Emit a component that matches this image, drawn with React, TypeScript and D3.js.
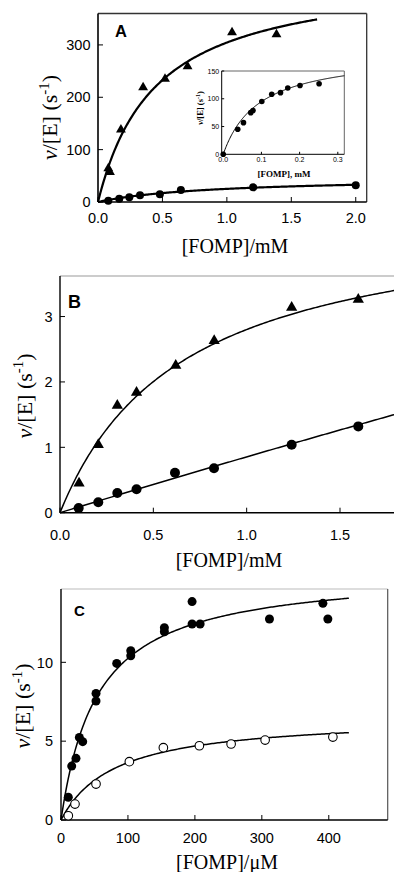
import React from 'react';
import * as d3 from 'd3';

const W = 394;
const H = 872;

// ---------- Panel A (main) ----------
const aXTicks = [0, 0.5, 1.0, 1.5, 2.0];
const aYTicks = [0, 100, 200, 300];
const aTriX = [0.08, 0.093, 0.178, 0.35, 0.52, 0.695, 1.04, 1.385];
const aTriY = [64, 57, 138, 219, 235, 259, 324, 320];
const aCircX = [0.08, 0.165, 0.243, 0.326, 0.48, 0.643, 1.204, 2.0];
const aCircY = [2.5, 6, 9, 13, 15, 23, 28, 32];
const aTriFit = [440, 0.445, 1.7]; // Vmax, Km, end of curve
const aCircFit = [47.7, 0.9, 2.02];

// ---------- Panel A inset ----------
const inXTicks = [0, 0.1, 0.2, 0.3];
const inYTicks = [0, 50, 100, 150];
const inX = [0, 0.038, 0.053, 0.072, 0.078, 0.101, 0.127, 0.15, 0.169, 0.201, 0.251];
const inY = [0, 45, 57, 75, 79, 95, 108, 111, 119.5, 124, 127];
const inFit = [183, 0.093, 0.317];

// ---------- Panel B ----------
const bXTicks = [0, 0.5, 1.0, 1.5];
const bYTicks = [0, 1, 2, 3];
const bTriX = [0.102, 0.205, 0.307, 0.41, 0.62, 0.826, 1.241, 1.598];
const bTriY = [0.45, 1.04, 1.64, 1.84, 2.25, 2.63, 3.14, 3.26];
const bCircX = [0.1, 0.205, 0.307, 0.41, 0.616, 0.825, 1.241, 1.598];
const bCircY = [0.07, 0.16, 0.3, 0.36, 0.61, 0.68, 1.04, 1.32];
const bTriFit = [4.65, 0.66, 1.8];
const bCircFit = [35, 40, 1.8];

// ---------- Panel C ----------
const cXTicks = [0, 100, 200, 300, 400];
const cYTicks = [0, 5, 10];
const cFillX = [10.9, 16, 22.4, 27.4, 32.4, 52.3, 52.3, 83.2, 104.2, 104.2, 154.4, 154.4, 195.8, 195.8, 207.8, 311.4, 391.2, 398.6];
const cFillY = [1.44, 3.42, 3.91, 5.24, 4.97, 8.03, 7.55, 9.93, 10.74, 10.42, 12.2, 11.94, 13.85, 12.43, 12.43, 12.75, 13.74, 12.75];
const cOpenX = [10.9, 20.9, 52.3, 102.1, 152.9, 206.7, 254.1, 304.9, 406.1];
const cOpenY = [0.27, 1.01, 2.28, 3.7, 4.59, 4.71, 4.82, 5.07, 5.26];
const cFillFit = [15.85, 54.6, 430];
const cOpenFit = [6.58, 80.8, 430];

const SANS = "'Liberation Sans', Arial, sans-serif";
const SERIF = "'Liberation Serif', 'Times New Roman', serif";

function mmPath(fit: number[], xs: d3.ScaleLinear<number, number>, ys: d3.ScaleLinear<number, number>) {
  const [vmax, km, xEnd] = fit;
  const n = 200;
  const pts: [number, number][] = d3.range(n + 1).map((i) => {
    const s = (xEnd * i) / n;
    return [s, (vmax * s) / (km + s)];
  });
  return d3
    .line<[number, number]>()
    .x((d) => xs(d[0]))
    .y((d) => ys(d[1]))(pts) as string;
}

function YLabel({ x, y, size }: { x: number; y: number; size: number }) {
  return (
    <text
      transform={`translate(${x},${y}) rotate(-90)`}
      textAnchor="middle"
      fontFamily={SERIF}
      fontSize={size}
      fill="#000"
    >
      <tspan fontStyle="italic">ν</tspan>
      <tspan>/[E] (s</tspan>
      <tspan dy={-size * 0.38} fontSize={size * 0.68}>-1</tspan>
      <tspan dy={size * 0.38}>)</tspan>
    </text>
  );
}

function Axes({
  xs,
  ys,
  xTicks,
  yTicks,
  xFmt,
  yFmt,
  tickLen,
  fontSize,
  xLabGap,
  yLabGap,
  axisW,
  frame,
}: any) {
  const [x0, x1] = xs.range();
  const [y0, y1] = ys.range(); // y0 bottom, y1 top
  return (
    <g>
      {frame.top && (
        <line x1={x0} x2={x1} y1={y1} y2={y1} stroke={frame.top} strokeWidth={frame.w || 1} />
      )}
      {frame.right && (
        <line x1={x1} x2={x1} y1={y1} y2={y0} stroke={frame.right} strokeWidth={frame.w || 1} />
      )}
      <line x1={x0} x2={x1} y1={y0} y2={y0} stroke="#000" strokeWidth={axisW} />
      <line x1={x0} x2={x0} y1={y0} y2={y1} stroke="#000" strokeWidth={axisW} />
      {xTicks.map((t: number, i: number) => (
        <g key={'xt' + i}>
          <line x1={xs(t)} x2={xs(t)} y1={y0} y2={y0 - tickLen} stroke="#000" strokeWidth={1} />
          <text x={xs(t)} y={y0 + xLabGap} textAnchor="middle" fontFamily={SANS} fontSize={fontSize}>
            {xFmt(t)}
          </text>
        </g>
      ))}
      {yTicks.map((t: number, i: number) => (
        <g key={'yt' + i}>
          <line x1={x0} x2={x0 + tickLen} y1={ys(t)} y2={ys(t)} stroke="#000" strokeWidth={1} />
          <text
            x={x0 - yLabGap}
            y={ys(t)}
            dy="0.36em"
            textAnchor="end"
            fontFamily={SANS}
            fontSize={fontSize}
          >
            {yFmt(t)}
          </text>
        </g>
      ))}
    </g>
  );
}

export default function App() {
  // scales
  const axs = d3.scaleLinear().domain([0, 2.085]).range([98, 366.7]);
  const ays = d3.scaleLinear().domain([0, 360]).range([202, 13.5]);
  const ixs = d3.scaleLinear().domain([-0.004, 0.317]).range([221.7, 344.3]);
  const iys = d3.scaleLinear().domain([0, 150]).range([154.3, 71]);
  const bxs = d3.scaleLinear().domain([0, 1.8]).range([60, 396]);
  const bys = d3.scaleLinear().domain([0, 3.62]).range([512.7, 276]);
  const cxs = d3.scaleLinear().domain([0, 488]).range([61, 387.7]);
  const cys = d3.scaleLinear().domain([0, 14.65]).range([820, 589]);

  const f1 = d3.format('.1f');
  const f0 = d3.format('d');
  const triA = d3.symbol().type(d3.symbolTriangle).size(42)() as string;
  const triB = d3.symbol().type(d3.symbolTriangle).size(55)() as string;

  return (
    <svg
      width={W}
      height={H}
      viewBox={`0 0 ${W} ${H}`}
      style={{ position: 'absolute', left: 0, top: 0, background: '#fff' }}
    >
      <rect x={0} y={0} width={W} height={H} fill="#fff" />

      {/* ===== Panel A ===== */}
      <Axes
        xs={axs}
        ys={ays}
        xTicks={aXTicks}
        yTicks={aYTicks}
        xFmt={f1}
        yFmt={f0}
        tickLen={5}
        fontSize={14.5}
        xLabGap={21}
        yLabGap={7.5}
        axisW={1.6}
        frame={{ top: '#333', right: '#333', w: 1.3 }}
      />
      <text x={115} y={37} fontFamily={SANS} fontWeight="bold" fontSize={16.5}>A</text>
      <YLabel x={57} y={117.5} size={22} />
      <text x={235} y={252.5} textAnchor="middle" fontFamily={SERIF} fontSize={20}>[FOMP]/mM</text>
      <path d={mmPath(aTriFit, axs, ays)} fill="none" stroke="#000" strokeWidth={2.2} />
      <path d={mmPath(aCircFit, axs, ays)} fill="none" stroke="#000" strokeWidth={2.2} />
      {aTriX.map((v, i) => (
        <path key={'at' + i} d={triA} transform={`translate(${axs(v)},${ays(aTriY[i])})`} fill="#000" />
      ))}
      {aCircX.map((v, i) => (
        <circle key={'ac' + i} cx={axs(v)} cy={ays(aCircY[i])} r={4} fill="#000" />
      ))}

      {/* ===== Inset ===== */}
      <Axes
        xs={ixs}
        ys={iys}
        xTicks={inXTicks}
        yTicks={inYTicks}
        xFmt={f1}
        yFmt={f0}
        tickLen={2.5}
        fontSize={7}
        xLabGap={8}
        yLabGap={2.5}
        axisW={1}
        frame={{ top: '#666', right: '#666', w: 1 }}
      />
      <text
        transform={`translate(203,108) rotate(-90)`}
        textAnchor="middle"
        fontFamily={SERIF}
        fontWeight="bold"
        fontSize={8.5}
      >
        <tspan fontStyle="italic">ν</tspan>
        <tspan>/[E] (s</tspan>
        <tspan dy={-3} fontSize={6}>-1</tspan>
        <tspan dy={3}>)</tspan>
      </text>
      <text x={284} y={177} textAnchor="middle" fontFamily={SERIF} fontWeight="bold" fontSize={9}>
        [FOMP], mM
      </text>
      <path d={mmPath(inFit, ixs, iys)} fill="none" stroke="#000" strokeWidth={1} />
      {inX.map((v, i) => (
        <circle key={'ic' + i} cx={ixs(v)} cy={iys(inY[i])} r={2.8} fill="#000" />
      ))}

      {/* ===== Panel B ===== */}
      <Axes
        xs={bxs}
        ys={bys}
        xTicks={bXTicks}
        yTicks={bYTicks}
        xFmt={f1}
        yFmt={f0}
        tickLen={5}
        fontSize={14.5}
        xLabGap={27}
        yLabGap={7.5}
        axisW={1.4}
        frame={{ top: '#999', right: '#555', w: 1 }}
      />
      <text x={68} y={308} fontFamily={SANS} fontWeight="bold" fontSize={18}>B</text>
      <YLabel x={31.5} y={396} size={22} />
      <text x={229} y={567} textAnchor="middle" fontFamily={SERIF} fontSize={20}>[FOMP]/mM</text>
      <path d={mmPath(bTriFit, bxs, bys)} fill="none" stroke="#000" strokeWidth={1.5} />
      <path d={mmPath(bCircFit, bxs, bys)} fill="none" stroke="#000" strokeWidth={1.5} />
      {bTriX.map((v, i) => (
        <path key={'bt' + i} d={triB} transform={`translate(${bxs(v)},${bys(bTriY[i])})`} fill="#000" />
      ))}
      {bCircX.map((v, i) => (
        <circle key={'bc' + i} cx={bxs(v)} cy={bys(bCircY[i])} r={5} fill="#000" />
      ))}

      {/* ===== Panel C ===== */}
      <Axes
        xs={cxs}
        ys={cys}
        xTicks={cXTicks}
        yTicks={cYTicks}
        xFmt={f0}
        yFmt={f0}
        tickLen={5}
        fontSize={14.5}
        xLabGap={22.5}
        yLabGap={8}
        axisW={1.4}
        frame={{ top: '#bbb', right: '#555', w: 1.2 }}
      />
      <text x={74} y={616} fontFamily={SANS} fontWeight="bold" fontSize={15}>C</text>
      <YLabel x={30} y={706} size={22} />
      <text x={227} y={869} textAnchor="middle" fontFamily={SERIF} fontSize={20}>[FOMP]/μM</text>
      <path d={mmPath(cFillFit, cxs, cys)} fill="none" stroke="#000" strokeWidth={1.5} />
      <path d={mmPath(cOpenFit, cxs, cys)} fill="none" stroke="#000" strokeWidth={1.5} />
      {cFillX.map((v, i) => (
        <circle key={'cf' + i} cx={cxs(v)} cy={cys(cFillY[i])} r={4.5} fill="#000" />
      ))}
      {cOpenX.map((v, i) => (
        <circle key={'co' + i} cx={cxs(v)} cy={cys(cOpenY[i])} r={4.3} fill="#fff" stroke="#000" strokeWidth={1.1} />
      ))}
    </svg>
  );
}
